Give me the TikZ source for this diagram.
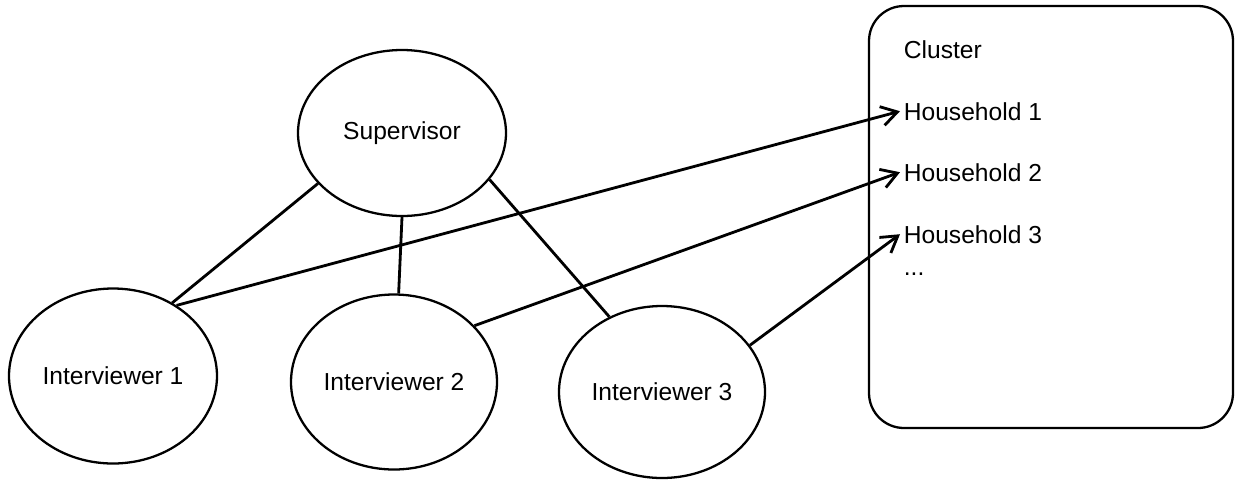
\documentclass[tikz,border=0pt]{standalone}
\usepackage{fontspec}
\setmainfont{Liberation Sans}
\usepackage{tikz}
\usetikzlibrary{shapes.geometric,arrows.meta}

\begin{document}
\begin{tikzpicture}[
    >={Straight Barb[length=9pt,width=11pt]},
    every node/.style={font=\fontsize{14}{16}\selectfont},
    person/.style={draw,shape=ellipse,line width=1.3pt,inner sep=0pt},
    item/.style={anchor=base west,inner sep=2pt},
    link/.style={line width=1.6pt}
]
\useasboundingbox (0,0) rectangle (24.7,-9.6);

\node (sup) at (8.04, -2.66) [person,minimum width=4.16cm,minimum height=3.32cm]{Supervisor};

\node (i1) at (2.26, -7.52) [person,minimum width=4.16cm,minimum height=3.5cm]{Interviewer 1};
\node (i2) at (7.88, -7.64) [person,minimum width=4.12cm,minimum height=3.5cm]{Interviewer 2};
\node (i3) at (13.24, -7.84) [person,minimum width=4.12cm,minimum height=3.44cm]{Interviewer 3};

\node (cluster) at (21.02, -4.34) [draw,line width=1.3pt,rounded corners=0.7cm,minimum width=7.28cm,minimum height=8.44cm]{};

\node (clname) at (18.0, -1.16) [item]{Cluster};
\node (h1) at (18.0, -2.40) [item]{Household 1};
\node (h2) at (18.0, -3.62) [item]{Household 2};
\node (h3) at (18.0, -4.86) [item]{Household 3};
\node (more) at (18.0, -5.50) [item]{...};

\draw [link] (sup.211) -- (i1.51);
\draw [link] (sup.south) -- (i2.87);
\draw [link] (sup.332) -- (i3.125);

\draw [link,->] (i1.48) -- (h1.west);
\draw [link,->] (i2.35) -- (h2.west);
\draw [link,->] (i3.28) -- (h3.west);

\end{tikzpicture}
\end{document}
